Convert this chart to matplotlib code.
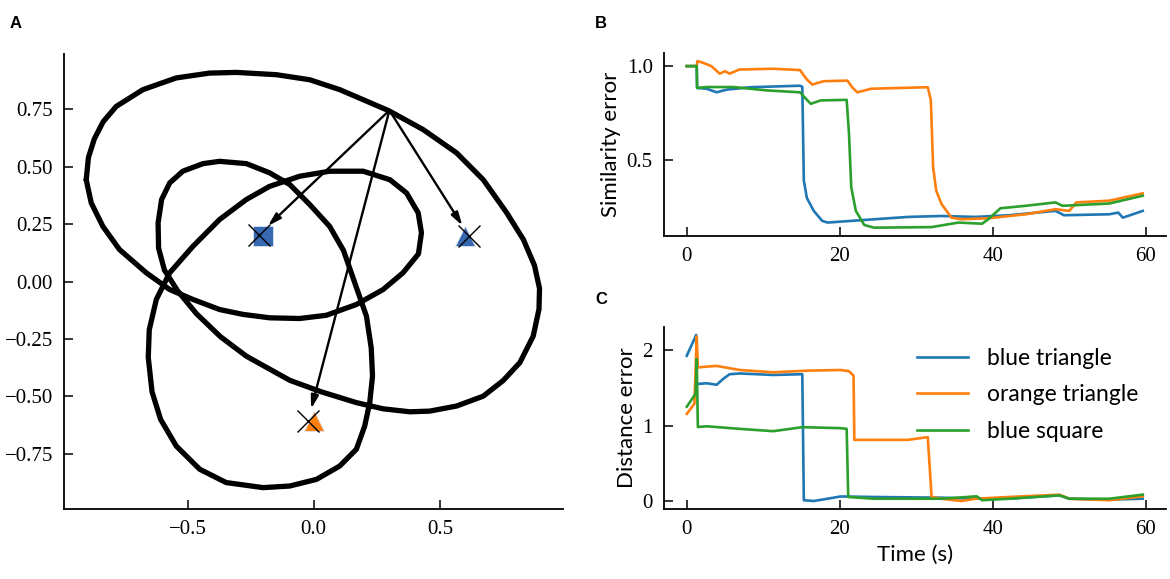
import matplotlib

matplotlib.use('agg')

import matplotlib.pyplot as plt

# ---- panel A: trajectory (data coords) ----
path_x = [-0.902, -0.893, -0.870, -0.835, -0.783, -0.677, -0.545, -0.413,
          -0.307, -0.148, -0.016, 0.103, 0.298, 0.434, 0.566, 0.672, 0.765,
          0.831, 0.875, 0.895, 0.893, 0.870, 0.817, 0.751, 0.672, 0.566,
          0.460, 0.381, 0.275, 0.169, 0.030, -0.095, -0.267, -0.370, -0.465,
          -0.540, -0.592, -0.615, -0.617, -0.603, -0.571, -0.519, -0.439,
          -0.373, -0.267, -0.175, -0.095, -0.016, 0.063, 0.118, 0.172, 0.209,
          0.228, 0.233, 0.222, 0.202, 0.169, 0.103, 0.011, -0.095, -0.201,
          -0.347, -0.452, -0.545, -0.607, -0.641, -0.656, -0.652, -0.624,
          -0.571, -0.479, -0.373, -0.267, -0.175, -0.056, 0.063, 0.196, 0.302,
          0.368, 0.414, 0.427, 0.415, 0.354, 0.275, 0.169, 0.050, -0.056,
          -0.175, -0.281, -0.373, -0.479, -0.571, -0.664, -0.770, -0.836,
          -0.882, -0.902]
path_y = [0.443, 0.540, 0.620, 0.695, 0.762, 0.835, 0.886, 0.907,
          0.910, 0.900, 0.878, 0.835, 0.743, 0.661, 0.560, 0.443, 0.299,
          0.183, 0.070, -0.030, -0.120, -0.238, -0.353, -0.431, -0.499, -0.542,
          -0.564, -0.567, -0.554, -0.527, -0.480, -0.430, -0.325, -0.240, -0.140,
          -0.040, 0.050, 0.145, 0.255, 0.357, 0.429, 0.480, 0.513,
          0.523, 0.513, 0.473, 0.422, 0.335, 0.240, 0.135, -0.035, -0.151,
          -0.290, -0.412, -0.527, -0.629, -0.730, -0.803, -0.861, -0.890, -0.897,
          -0.875, -0.817, -0.716, -0.600, -0.480, -0.330, -0.210, -0.078,
          0.038, 0.153, 0.270, 0.357, 0.414, 0.458, 0.480, 0.480, 0.443,
          0.385, 0.299, 0.212, 0.120, 0.038, -0.035, -0.100, -0.147, -0.161,
          -0.158, -0.143, -0.122, -0.078, -0.035, 0.038, 0.139, 0.240,
          0.342, 0.443]

origin = (0.30, 0.745)
objects = ['blue square', 'blue triangle', 'orange triangle']
obj_x = [-0.20, 0.60, 0.00]
obj_y = [0.20, 0.20, -0.607]
obj_marker = ['s', '^', '^']
obj_color = ['#3769b1', '#3769b1', '#ff800e']
est_x = [-0.218, 0.616, -0.023]
est_y = [0.204, 0.197, -0.607]

# ---- panels B and C: errors over time ----
sim_blue_t = [0, 1.3, 1.35, 2.6, 3.9, 5.2, 8.3, 14.8, 15.1, 15.3, 15.7, 16.6,
              17.7, 18.4, 20.1, 24.5, 28.9, 33.3, 37.7, 42.1, 48.2, 49.3,
              55.2, 56.4, 57.0, 59.6]
sim_blue_v = [1.0, 1.0, 0.884, 0.88, 0.861, 0.875, 0.888, 0.896, 0.89, 0.393,
              0.30, 0.232, 0.179, 0.17, 0.175, 0.1875, 0.20, 0.205, 0.20,
              0.209, 0.232, 0.209, 0.214, 0.223, 0.196, 0.232]

sim_orange_t = [0, 1.3, 1.4, 2.1, 3.2, 4.3, 5.0, 5.6, 6.9, 11.3, 14.8, 15.7,
                16.4, 17.9, 21.0, 21.7, 22.3, 24.1, 31.5, 31.9, 32.2, 32.6,
                33.3, 34.6, 35.9, 39.4, 44.3, 48.2, 50.0, 50.9, 55.2, 59.6]
sim_orange_v = [1.0, 1.0, 1.027, 1.018, 1.0, 0.96, 0.973, 0.96, 0.982, 0.986,
                0.979, 0.929, 0.902, 0.92, 0.923, 0.884, 0.861, 0.88, 0.888,
                0.82, 0.464, 0.34, 0.268, 0.196, 0.1875, 0.193, 0.214, 0.241,
                0.232, 0.277, 0.286, 0.325]

sim_green_t = [0, 1.3, 1.35, 2.6, 6.1, 10.5, 14.8, 15.5, 16.2, 17.5, 20.9,
               21.2, 21.5, 22.1, 23.2, 24.5, 32.0, 35.5, 38.6, 39.4, 41.0,
               44.3, 48.2, 49.1, 55.2, 59.6]
sim_green_v = [1.0, 1.0, 0.884, 0.889, 0.889, 0.871, 0.861, 0.83, 0.80, 0.818,
               0.821, 0.643, 0.357, 0.232, 0.157, 0.143, 0.146, 0.17, 0.164,
               0.1875, 0.246, 0.259, 0.277, 0.259, 0.271, 0.3125]

dist_blue_t = [0, 1.23, 1.3, 2.6, 3.9, 4.75, 5.6, 6.9, 11.3, 15.1, 15.3, 16.6,
               18.4, 20.1, 24.5, 33.3, 37.7, 42.1, 48.7, 50.0, 55.2, 59.6]
dist_blue_v = [1.925, 2.2, 1.55, 1.56, 1.54, 1.617, 1.68, 1.69, 1.67, 1.68,
               0.01, 0.0, 0.03, 0.06, 0.053, 0.044, 0.03, 0.03, 0.075, 0.03,
               0.018, 0.03]

dist_orange_t = [0, 1.0, 1.3, 1.45, 2.6, 3.9, 6.9, 11.3, 15.7, 20.1, 21.2, 21.8,
                 21.9, 24.5, 28.9, 31.5, 32.0, 33.3, 35.9, 37.7, 42.1, 48.7,
                 50.0, 55.2, 59.6]
dist_orange_v = [1.154, 1.29, 2.18, 1.77, 1.78, 1.79, 1.736, 1.705, 1.727,
                 1.736, 1.72, 1.66, 0.81, 0.81, 0.81, 0.846, 0.053, 0.03, 0.0,
                 0.03, 0.053, 0.084, 0.03, 0.01, 0.062]

dist_green_t = [0, 1.15, 1.3, 1.45, 2.6, 6.9, 11.3, 15.1, 20.1, 20.9, 21.1,
                24.5, 33.3, 37.9, 38.6, 42.1, 48.7, 50.0, 55.2, 59.6]
dist_green_v = [1.25, 1.42, 1.88, 0.98, 0.99, 0.956, 0.925, 0.978, 0.965,
                0.956, 0.053, 0.03, 0.03, 0.062, 0.01, 0.03, 0.075, 0.03,
                0.03, 0.084]

labels = ['blue triangle', 'orange triangle', 'blue square']
colors = ['#1f77b4', '#ff7f0e', '#2ca02c']

LABEL_FONT = 'Lato'


def style_axes(ax):
    for side in ('top', 'right'):
        ax.spines[side].set_visible(False)
    for side in ('left', 'bottom'):
        ax.spines[side].set_linewidth(1.3)
    ax.tick_params(direction='in', length=6.5, width=1.1, pad=8,
                   labelsize=15)


def plot_trajectory(ax):
    ax.plot(path_x, path_y, color='black', lw=3.8, solid_joinstyle='round',
            solid_capstyle='round', zorder=2)
    for i in range(len(objects)):
        ax.plot(obj_x[i], obj_y[i], marker=obj_marker[i], ms=14,
                color=obj_color[i], mec='#dce6f2', mew=0.6, zorder=3)
        ax.plot(est_x[i], est_y[i], marker='x', ms=16, color='black',
                mew=1.0, zorder=4)
        ax.annotate('', xy=(est_x[i], est_y[i]), xytext=origin,
                    arrowprops=dict(arrowstyle='-|>,head_length=0.7,head_width=0.2',
                                    lw=1.7, color='black',
                                    shrinkA=0, shrinkB=9,
                                    mutation_scale=11), zorder=5)
    ax.set_xlim(-0.99, 0.99)
    ax.set_ylim(-0.99, 0.99)
    ax.set_xticks([-0.5, 0.0, 0.5])
    ax.set_yticks([-0.75, -0.5, -0.25, 0.0, 0.25, 0.5, 0.75])
    style_axes(ax)


def plot_similarity(ax):
    ax.plot(sim_blue_t, sim_blue_v, color=colors[0], lw=1.9)
    ax.plot(sim_orange_t, sim_orange_v, color=colors[1], lw=1.9)
    ax.plot(sim_green_t, sim_green_v, color=colors[2], lw=1.9)
    ax.set_ylabel('Similarity error', family=LABEL_FONT, fontsize=16)
    ax.set_yticks([0.5, 1.0])
    ax.set_xticks([0, 20, 40, 60])
    style_axes(ax)


def plot_distance(ax):
    ax.plot(dist_blue_t, dist_blue_v, color=colors[0], lw=1.9,
            label=labels[0])
    ax.plot(dist_orange_t, dist_orange_v, color=colors[1], lw=1.9,
            label=labels[1])
    ax.plot(dist_green_t, dist_green_v, color=colors[2], lw=1.9,
            label=labels[2])
    ax.set_ylabel('Distance error', family=LABEL_FONT, fontsize=16)
    ax.set_xlabel('Time (s)', family=LABEL_FONT, fontsize=16)
    ax.set_yticks([0, 1, 2])
    ax.set_xticks([0, 20, 40, 60])
    ax.legend(loc='upper left', bbox_to_anchor=(0.505, 0.885),
              frameon=False, prop={'family': LABEL_FONT, 'size': 16.5},
              handlelength=2.2, handletextpad=0.85, labelspacing=0.68,
              borderpad=0, borderaxespad=0)
    style_axes(ax)


def main():
    plt.rcParams['font.family'] = ['Liberation Serif', 'DejaVu Serif']
    fig = plt.figure(figsize=(11.7, 5.79), dpi=100)

    ax_a = fig.add_axes([0.0547, 0.1209, 0.4269, 0.7858])
    ax_b = fig.add_axes([0.5675, 0.5924, 0.4287, 0.3166])
    ax_c = fig.add_axes([0.5675, 0.1204, 0.4287, 0.3154])

    plot_trajectory(ax_a)
    plot_similarity(ax_b)
    plot_distance(ax_c)

    for letter, x, y in (('A', 16, 24), ('B', 601, 24), ('C', 601, 299)):
        fig.text(x / 1170, 1 - y / 579, letter, ha='center', va='center',
                 family=['Liberation Sans', 'DejaVu Sans'],
                 fontweight='bold', fontsize=12)

    fig.savefig('out.png', dpi=100)


if __name__ == '__main__':
    main()
